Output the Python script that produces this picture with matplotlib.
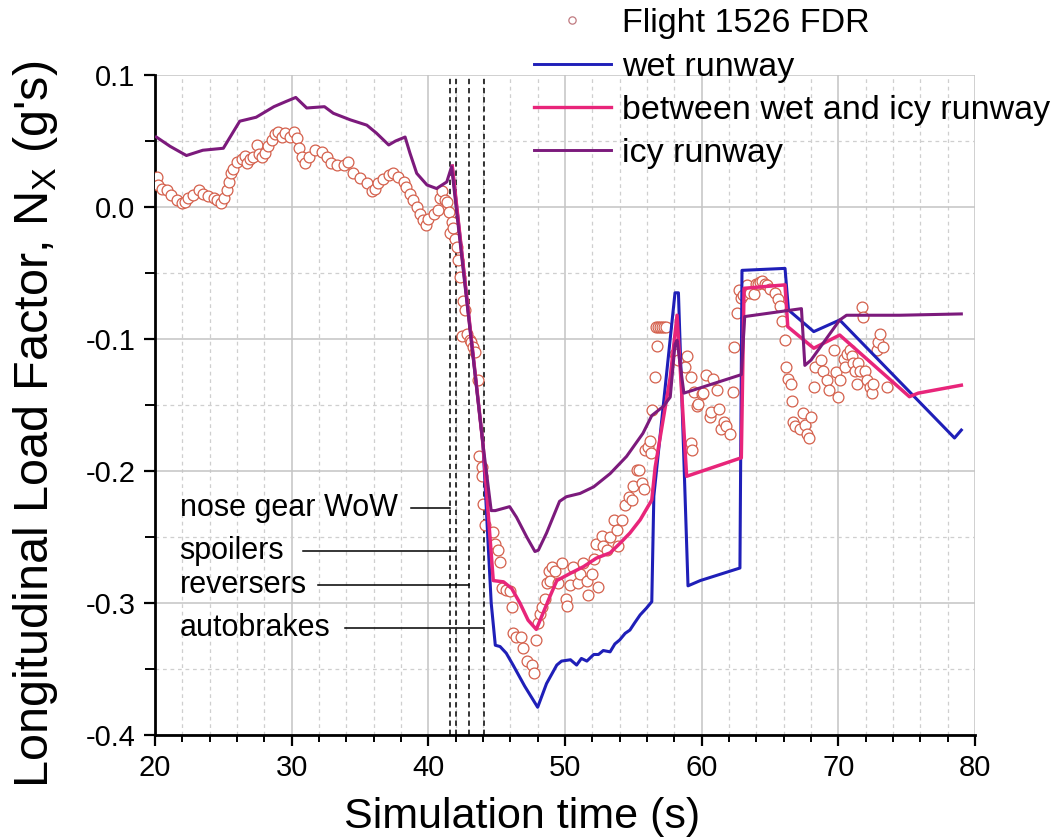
import numpy as np
import matplotlib
matplotlib.use("Agg")
import matplotlib.pyplot as plt
from matplotlib import font_manager
from matplotlib.ticker import MultipleLocator
from matplotlib.lines import Line2D

# -- Flight data recorder samples (time s, Nx g's)
t_fdr = [20.17, 20.24, 20.5, 20.85, 21.2, 21.6, 21.95, 22.2, 22.4, 22.8, 23.2, 23.5, 23.9,
         24.3, 24.5, 24.8, 25.05, 25.25, 25.4, 25.55, 25.7, 26.0, 26.35, 26.6, 26.7, 26.95,
         27.2, 27.45, 27.6, 27.8, 28.05, 28.3, 28.55, 28.8, 29.0, 29.3, 29.5, 29.9, 30.2,
         30.4, 30.5, 30.75, 31.0, 31.3, 31.7, 32.2, 32.6, 32.9, 33.3, 33.8, 34.1, 34.5,
         35.0, 35.5, 35.85, 36.1, 36.35, 36.7, 37.1, 37.4, 37.8, 38.2, 38.4, 38.65, 38.9,
         39.15, 39.4, 39.6, 39.8, 40.0, 40.4, 40.7, 40.85, 41.0, 41.2, 41.35, 41.5, 41.6,
         41.7, 41.8, 41.95, 42.1, 42.2, 42.3, 42.45, 42.55, 42.7, 42.8, 43.05, 43.15, 43.3,
         43.4, 43.65, 43.7, 43.9, 43.95, 44.0, 44.15, 44.75, 44.9, 45.1, 45.25, 45.4, 45.7,
         45.95, 46.1, 46.2, 46.45, 46.8, 46.95, 47.2, 47.55, 47.7, 47.9, 48.05, 48.2, 48.3,
         48.55, 48.7, 48.8, 48.9, 49.05, 49.3, 49.5, 49.75, 50.1, 50.15, 50.4, 50.6, 50.95,
         51.1, 51.35, 51.6, 51.7, 51.95, 52.1, 52.3, 52.45, 52.7, 52.8, 53.05, 53.3, 53.55,
         53.8, 53.9, 54.15, 54.4, 54.65, 54.9, 55.0, 55.25, 55.4, 55.6, 55.75, 55.85, 56.1,
         56.2, 56.3, 56.35, 56.6, 56.65, 56.7, 56.8, 56.95, 57.1, 57.25, 57.4, 58.05, 58.3,
         58.8, 58.9, 59.2, 59.25, 59.3, 59.45, 59.65, 59.75, 60.0, 60.1, 60.35, 60.6, 60.7,
         60.85, 61.1, 61.3, 61.45, 61.6, 61.8, 62.05, 62.3, 62.4, 62.55, 62.7, 62.9, 63.05,
         63.3, 63.55, 63.8, 64.0, 64.15, 64.3, 64.45, 64.6, 64.8, 65.0, 65.35, 65.6, 65.7,
         65.85, 66.1, 66.2, 66.35, 66.5, 66.6, 66.7, 66.85, 67.2, 67.4, 67.55, 67.7, 67.85,
         68.0, 68.2, 68.3, 68.7, 68.9, 69.15, 69.3, 69.65, 69.8, 70.0, 70.1, 70.4, 70.5,
         70.6, 70.85, 71.0, 71.1, 71.2, 71.35, 71.45, 71.6, 71.7, 71.8, 71.95, 72.1, 72.35,
         72.45, 72.55, 72.8, 72.9, 73.05, 73.3, 73.55]
nx_fdr = [0.023, 0.017, 0.014, 0.013, 0.009, 0.005, 0.003, 0.004, 0.007, 0.009, 0.013, 0.010, 0.008,
          0.007, 0.005, 0.003, 0.007, 0.013, 0.019, 0.026, 0.029, 0.034, 0.036, 0.039, 0.033, 0.036,
          0.038, 0.047, 0.040, 0.038, 0.041, 0.046, 0.051, 0.055, 0.057, 0.053, 0.056, 0.053, 0.057,
          0.052, 0.045, 0.038, 0.033, 0.038, 0.043, 0.042, 0.038, 0.033, 0.032, 0.032, 0.034, 0.026,
          0.022, 0.018, 0.012, 0.014, 0.018, 0.021, 0.024, 0.026, 0.023, 0.019, 0.015, 0.010, 0.005,
          0.000, -0.005, -0.010, -0.014, -0.009, -0.005, -0.002, 0.007, 0.012, 0.005, 0.004, -0.004, -0.020,
          -0.011, -0.016, -0.024, -0.030, -0.040, -0.053, -0.098, -0.071, -0.078, -0.096, -0.101, -0.102, -0.106,
          -0.110, -0.131, -0.189, -0.197, -0.204, -0.225, -0.241, -0.246, -0.255, -0.260, -0.269, -0.289, -0.290,
          -0.291, -0.303, -0.323, -0.326, -0.326, -0.334, -0.344, -0.347, -0.353, -0.328, -0.315, -0.308, -0.303,
          -0.297, -0.285, -0.276, -0.283, -0.273, -0.276, -0.285, -0.270, -0.297, -0.302, -0.286, -0.273, -0.285,
          -0.278, -0.270, -0.283, -0.294, -0.278, -0.267, -0.255, -0.288, -0.249, -0.257, -0.260, -0.250, -0.237,
          -0.245, -0.257, -0.237, -0.226, -0.220, -0.222, -0.211, -0.199, -0.199, -0.209, -0.214, -0.184, -0.182,
          -0.177, -0.186, -0.154, -0.129, -0.091, -0.105, -0.091, -0.091, -0.091, -0.091, -0.091, -0.111, -0.116,
          -0.121, -0.113, -0.129, -0.179, -0.184, -0.140, -0.151, -0.149, -0.142, -0.141, -0.127, -0.159, -0.155,
          -0.130, -0.139, -0.153, -0.168, -0.163, -0.166, -0.172, -0.140, -0.106, -0.080, -0.063, -0.069, -0.067,
          -0.059, -0.065, -0.066, -0.058, -0.058, -0.057, -0.056, -0.058, -0.059, -0.062, -0.065, -0.070, -0.075,
          -0.086, -0.101, -0.121, -0.130, -0.134, -0.147, -0.163, -0.166, -0.168, -0.156, -0.165, -0.172, -0.175,
          -0.159, -0.136, -0.121, -0.116, -0.124, -0.131, -0.139, -0.108, -0.125, -0.144, -0.131, -0.115, -0.121,
          -0.111, -0.108, -0.113, -0.118, -0.124, -0.134, -0.118, -0.124, -0.076, -0.083, -0.124, -0.131, -0.136,
          -0.141, -0.134, -0.108, -0.102, -0.096, -0.106, -0.136]

# -- Simulation: wet runway
t_wet = [41.75, 44.0, 44.4, 44.6, 44.9, 45.25, 45.7, 46.2, 47.05, 48.0, 48.65, 49.4, 49.75,
         50.4, 50.85, 51.2, 51.6, 52.1, 52.45, 52.8, 53.3, 53.65, 54.0, 54.4, 54.75, 55.1,
         55.5, 55.95, 56.35, 56.5, 58.05, 58.3, 59.0, 59.9, 62.8, 62.95, 66.1, 66.35, 68.2,
         70.1, 78.5, 79.0]
nx_wet = [0.031, -0.180, -0.260, -0.300, -0.332, -0.333, -0.338, -0.347, -0.363, -0.379, -0.361, -0.347, -0.344,
          -0.343, -0.347, -0.342, -0.344, -0.339, -0.339, -0.336, -0.337, -0.331, -0.328, -0.323, -0.3205, -0.315,
          -0.309, -0.304, -0.299, -0.219, -0.065, -0.065, -0.287, -0.283, -0.2735, -0.048, -0.0465, -0.078, -0.0944,
          -0.0856, -0.175, -0.169]

# -- Simulation: between wet and icy runway
t_mid = [41.75, 44.0, 44.75, 45.5, 46.1, 46.7, 47.3, 47.9, 48.3, 48.9, 49.4, 50.4, 51.35,
         52.3, 53.3, 54.0, 54.75, 55.5, 56.35, 56.6, 57.7, 58.2, 58.9, 62.9, 63.1, 66.1,
         66.3, 68.2, 70.1, 75.2, 75.85, 79.0]
nx_mid = [0.031, -0.180, -0.283, -0.284, -0.289, -0.300, -0.313, -0.320, -0.310, -0.295, -0.283, -0.2775, -0.2725,
          -0.266, -0.262, -0.255, -0.247, -0.237, -0.222, -0.197, -0.129, -0.082, -0.204, -0.190, -0.0616, -0.059,
          -0.0907, -0.107, -0.097, -0.1437, -0.141, -0.135]

# -- Simulation: icy runway
t_icy = [20.1, 21.1, 22.3, 23.5, 25.0, 26.2, 27.4, 28.7, 29.6, 30.3, 31.1, 32.4, 33.05, 34.3,
         35.5, 36.2, 37.1, 37.6, 38.3, 38.65, 39.15, 39.9, 40.6, 41.35, 41.7, 44.0, 44.6, 44.9,
         45.95, 46.45, 47.2, 47.8, 48.05, 48.65, 49.6, 50.1, 51.1, 52.1, 53.3, 54.5, 55.7, 56.35,
         57.2, 57.7, 58.05, 58.2, 58.7, 62.9, 63.15, 67.3, 67.55, 68.0, 70.1, 70.6, 74.5, 79.0]
nx_icy = [0.053, 0.046, 0.039, 0.043, 0.0445, 0.065, 0.068, 0.076, 0.080, 0.083, 0.075, 0.076, 0.071, 0.066,
          0.062, 0.056, 0.047, 0.050, 0.053, 0.041, 0.0255, 0.0167, 0.014, 0.019, 0.0305, -0.180, -0.230, -0.230,
          -0.227, -0.235, -0.250, -0.261, -0.260, -0.247, -0.223, -0.2195, -0.217, -0.212, -0.202, -0.189, -0.1715, -0.158,
          -0.151, -0.144, -0.104, -0.101, -0.141, -0.127, -0.083, -0.077, -0.120, -0.116, -0.0856, -0.082, -0.082, -0.081]

# -- Landing events
event_labels = ["nose gear WoW", "spoilers", "reversers", "autobrakes"]
event_times  = [41.6, 42.0, 43.0, 44.1]
event_nx     = [-0.228, -0.2606, -0.2864, -0.319]
leader_start = [38.7, 30.8, 31.9, 33.9]

series_labels = ["Flight 1526 FDR", "wet runway", "between wet and icy runway", "icy runway"]


def has_font(name):
    try:
        font_manager.findfont(name, fallback_to_default=False)
        return True
    except Exception:
        return False


plt.rcParams['font.family'] = ['Liberation Sans', 'DejaVu Sans']
plt.rcParams['axes.unicode_minus'] = False
plt.rcParams['mathtext.fontset'] = 'custom'
plt.rcParams['mathtext.rm'] = 'Liberation Sans'

if has_font('Liberation Sans Narrow'):
    tick_font = dict(family='Liberation Sans Narrow', size=25)
else:
    tick_font = dict(family='Liberation Sans', size=21)

fig = plt.figure(figsize=(10.57, 8.39), dpi=100)
ax  = fig.add_axes([155/1057, 104/839, 820/1057, 660/839])

c_fdr = '#d4604c'
c_wet = '#1f1fb8'
c_mid = '#e8257a'
c_icy = '#7c1a7c'

ax.plot(t_fdr, nx_fdr, 'o', ms=7.8, mfc='white', mec=c_fdr, mew=0.9, zorder=3)
ax.plot(t_wet, nx_wet, '-', color=c_wet, lw=2.2, zorder=4)
ax.plot(t_mid, nx_mid, '-', color=c_mid, lw=2.5, zorder=5)
ax.plot(t_icy, nx_icy, '-', color=c_icy, lw=2.2, zorder=6)

ax.vlines(event_times, -0.4, 0.1, colors='k', linestyles=(0, (3.5, 2.5)), lw=1.1, zorder=2)
for lab, te, ye, x0 in zip(event_labels, event_times, event_nx, leader_start):
    ax.plot([x0, te], [ye, ye], '-', color='k', lw=1.1, zorder=2)
    ax.text(21.8, ye, lab, fontsize=22, va='center', ha='left', zorder=2)

ax.set_xlim(20, 80)
ax.set_ylim(-0.4, 0.1)
ax.xaxis.set_major_locator(MultipleLocator(10))
ax.xaxis.set_minor_locator(MultipleLocator(2))
ax.yaxis.set_major_locator(MultipleLocator(0.1))
ax.yaxis.set_minor_locator(MultipleLocator(0.05))
ax.yaxis.set_major_formatter(plt.FuncFormatter(lambda v, p: "%.1f" % v))

ax.grid(which='major', color='#c4c4c4', lw=1.1, ls='-', zorder=0)
ax.grid(which='minor', color='#cfcfcf', lw=0.9, ls=(0, (3, 3)), zorder=0)
ax.set_axisbelow(True)

for s in ['top', 'right']:
    ax.spines[s].set_visible(False)
for s in ['left', 'bottom']:
    ax.spines[s].set_linewidth(2.0)

ax.tick_params(which='major', direction='out', length=8, width=1.6, pad=6)
ax.tick_params(which='minor', direction='out', length=5, width=1.4)
ax.tick_params(axis='y', which='minor', length=7)
for lab in ax.get_xticklabels() + ax.get_yticklabels():
    lab.set_fontfamily(tick_font['family'])
    lab.set_fontsize(tick_font['size'])

ax.set_xlabel("Simulation time (s)", fontsize=31)
ax.xaxis.set_label_coords(0.4476, -0.094)
ax.set_ylabel("Longitudinal Load Factor, N$_\\mathregular{X}$ (g's)", fontsize=35)
ax.yaxis.set_label_coords(-0.116, 0.47)

handles = [Line2D([], [], ls='none', marker='o', ms=7.5, mfc='white', mec='#c07a80', mew=0.9),
           Line2D([], [], color=c_wet, lw=2.1),
           Line2D([], [], color=c_mid, lw=2.4),
           Line2D([], [], color=c_icy, lw=2.1)]
fig.legend(handles, series_labels, loc='upper left', bbox_to_anchor=(534/1057, 0.990),
           frameon=False, fontsize=24.5, handlelength=2.25, handletextpad=0.33,
           labelspacing=0.36, borderpad=0, borderaxespad=0, markerscale=0.7)

fig.savefig("out.png", dpi=100)
